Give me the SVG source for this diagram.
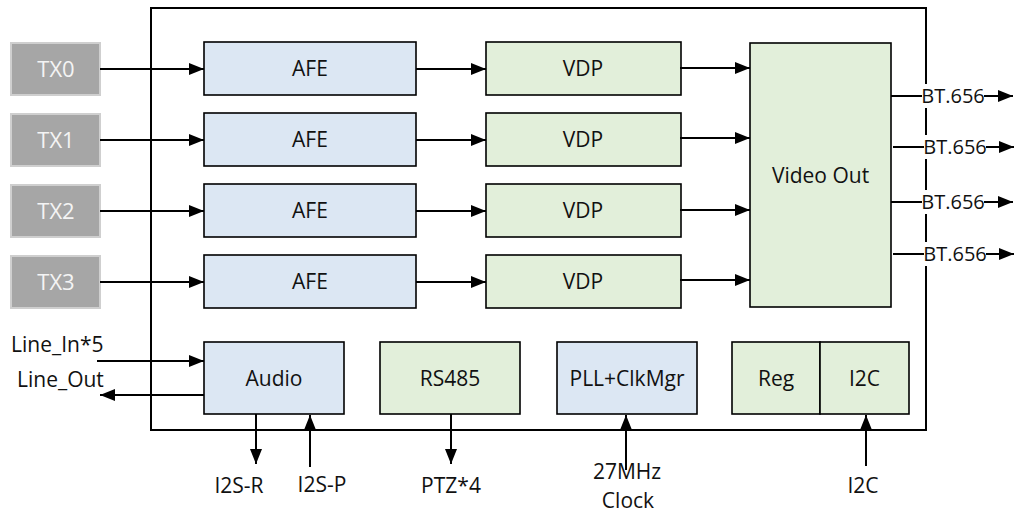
<svg xmlns="http://www.w3.org/2000/svg" width="1018" height="516" viewBox="0 0 1018 516">
<defs>
<marker id="ah" markerWidth="15" markerHeight="12" refX="15" refY="6" orient="auto" markerUnits="userSpaceOnUse">
<path d="M0,0 L15,6 L0,12 Z" fill="#000"/>
</marker>
<style>
text{font-family:"Open Sans","Liberation Sans",sans-serif;font-size:21px;fill:#111;text-anchor:middle}
.tx rect{fill:#a6a6a6;stroke:#cfcfcf;stroke-width:2}
.tx text{fill:#f4f4f4;font-size:22px}
.blue{fill:#dce7f3;stroke:#000;stroke-width:1.6}
.green{fill:#e2efda;stroke:#000;stroke-width:1.6}
.c line{stroke:#000;stroke-width:2;fill:none}
.a{marker-end:url(#ah)}
.lbl{text-anchor:start}
.bt{font-size:20px}
</style>
</defs>
<rect width="1018" height="516" fill="#fff"/>
<g id="chip"><rect x="151" y="8" width="775" height="422" fill="none" stroke="#000" stroke-width="2"/></g>

<g id="tx0" class="tx"><rect x="11" y="43" width="89" height="52"/><text x="56" y="77">TX0</text></g>
<g id="tx1" class="tx"><rect x="11" y="114" width="89" height="52"/><text x="56" y="148">TX1</text></g>
<g id="tx2" class="tx"><rect x="11" y="185" width="89" height="52"/><text x="56" y="219">TX2</text></g>
<g id="tx3" class="tx"><rect x="11" y="256" width="89" height="52"/><text x="56" y="290">TX3</text></g>

<g id="afe0"><rect class="blue" x="204" y="42" width="212" height="53"/><text x="310" y="76">AFE</text></g>
<g id="afe1"><rect class="blue" x="204" y="113" width="212" height="53"/><text x="310" y="147">AFE</text></g>
<g id="afe2"><rect class="blue" x="204" y="184" width="212" height="53"/><text x="310" y="218">AFE</text></g>
<g id="afe3"><rect class="blue" x="204" y="255" width="212" height="53"/><text x="310" y="289">AFE</text></g>

<g id="vdp0"><rect class="green" x="486" y="42" width="195" height="53"/><text x="583" y="76">VDP</text></g>
<g id="vdp1"><rect class="green" x="486" y="113" width="195" height="53"/><text x="583" y="147">VDP</text></g>
<g id="vdp2"><rect class="green" x="486" y="184" width="195" height="53"/><text x="583" y="218">VDP</text></g>
<g id="vdp3"><rect class="green" x="486" y="255" width="195" height="53"/><text x="583" y="289">VDP</text></g>

<g id="videoout"><rect class="green" x="750" y="43" width="141" height="264"/><text x="820.5" y="183">Video Out</text></g>

<g id="audio"><rect class="blue" x="204" y="342" width="140" height="72"/><text x="274" y="386">Audio</text></g>
<g id="rs485"><rect class="green" x="380" y="342" width="140" height="72"/><text x="450" y="386">RS485</text></g>
<g id="pll"><rect class="blue" x="557" y="342" width="140" height="72"/><text x="627" y="386">PLL+ClkMgr</text></g>
<g id="reg"><rect class="green" x="732" y="342" width="88" height="72"/><text x="776" y="386">Reg</text></g>
<g id="i2c"><rect class="green" x="820" y="342" width="89" height="72"/><text x="864.5" y="386">I2C</text></g>

<g id="connectors" class="c">
<line class="a" x1="100" y1="69" x2="204" y2="69"/>
<line class="a" x1="100" y1="140" x2="204" y2="140"/>
<line class="a" x1="100" y1="211" x2="204" y2="211"/>
<line class="a" x1="100" y1="282" x2="204" y2="282"/>
<line class="a" x1="416" y1="69" x2="486" y2="69"/>
<line class="a" x1="416" y1="140" x2="486" y2="140"/>
<line class="a" x1="416" y1="211" x2="486" y2="211"/>
<line class="a" x1="416" y1="282" x2="486" y2="282"/>
<line class="a" x1="680" y1="68" x2="750" y2="68"/>
<line class="a" x1="680" y1="138" x2="750" y2="138"/>
<line class="a" x1="680" y1="210" x2="750" y2="210"/>
<line class="a" x1="680" y1="280" x2="750" y2="280"/>
<line class="a" x1="891" y1="96" x2="1013" y2="96"/>
<line class="a" x1="893" y1="147" x2="1014" y2="147"/>
<line class="a" x1="891" y1="202" x2="1013" y2="202"/>
<line class="a" x1="893" y1="254" x2="1014" y2="254"/>
<line class="a" x1="97" y1="361" x2="204" y2="361"/>
<line class="a" x1="204" y1="395" x2="100" y2="395"/>
<line class="a" x1="256" y1="414" x2="256" y2="464"/>
<line class="a" x1="310" y1="467" x2="310" y2="415"/>
<line class="a" x1="451" y1="414" x2="451" y2="464"/>
<line class="a" x1="626" y1="470" x2="626" y2="415"/>
<line class="a" x1="866" y1="466" x2="866" y2="415"/>
</g>

<g id="labels">
<rect x="922" y="84" width="62" height="24" fill="#fff"/><text class="bt" x="953" y="103">BT.656</text>
<rect x="924" y="135" width="62" height="24" fill="#fff"/><text class="bt" x="955" y="154">BT.656</text>
<rect x="922" y="190" width="62" height="24" fill="#fff"/><text class="bt" x="953" y="209">BT.656</text>
<rect x="924" y="242" width="62" height="24" fill="#fff"/><text class="bt" x="955" y="261">BT.656</text>
<text class="lbl" x="11" y="352">Line_In*5</text>
<text class="lbl" x="17" y="387">Line_Out</text>
<text x="239" y="493">I2S-R</text>
<text x="322" y="492">I2S-P</text>
<text x="451" y="493">PTZ*4</text>
<text x="627" y="479">27MHz</text>
<text x="628" y="508">Clock</text>
<text x="863" y="493">I2C</text>
</g>
</svg>
